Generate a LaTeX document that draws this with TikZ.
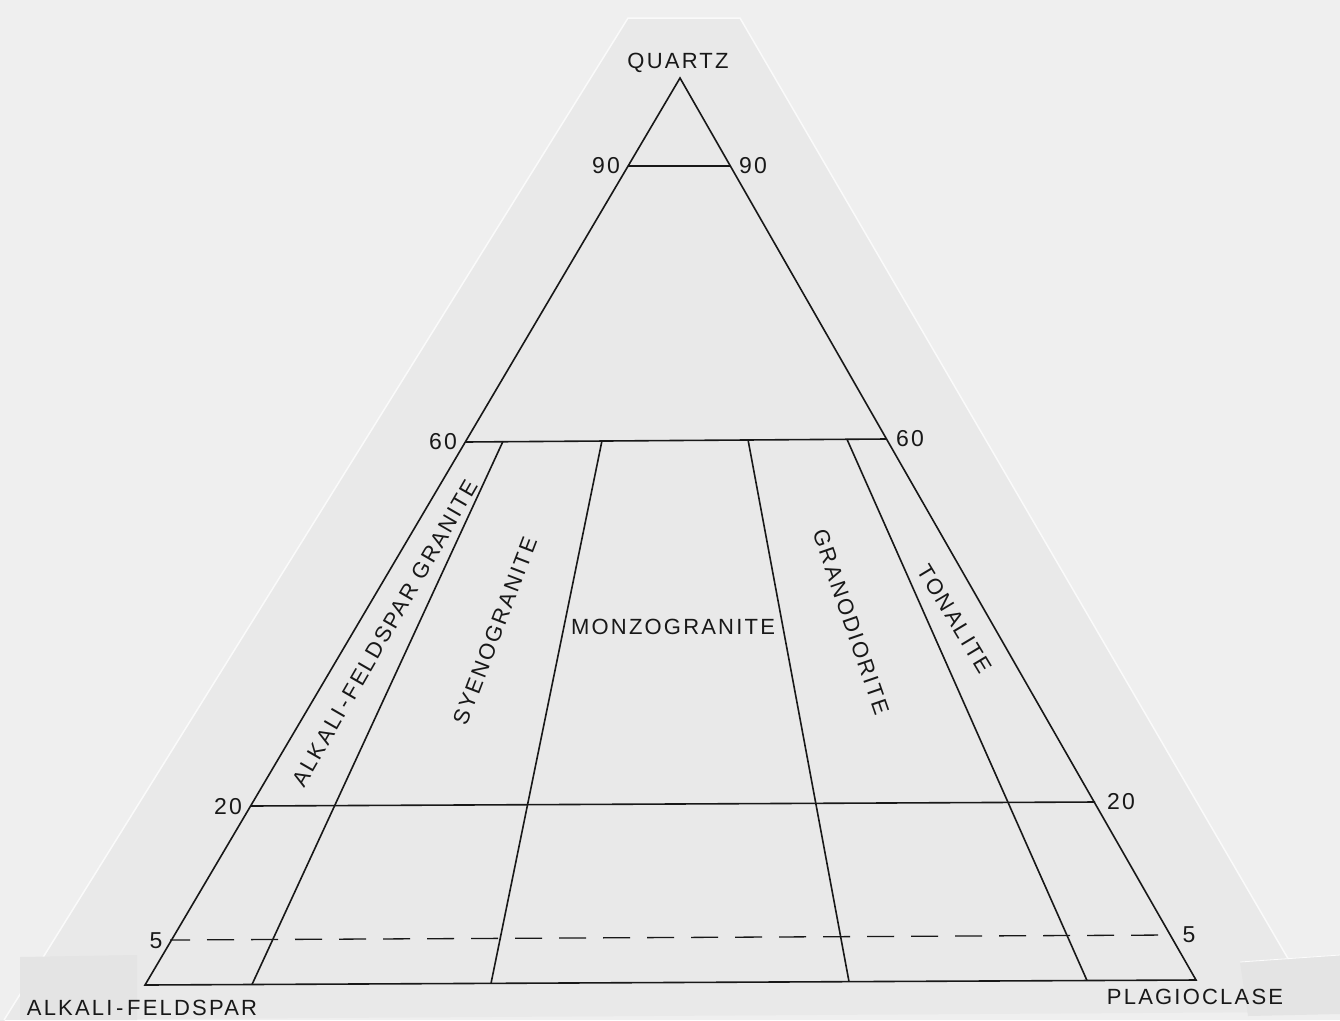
\documentclass[tikz,border=0pt]{standalone}
\usepackage{fontspec}
\setmainfont{Liberation Sans}[LetterSpace=10]
\definecolor{bgc}{HTML}{EFEFEF}
\definecolor{paperc}{HTML}{E9E9E9}
\definecolor{tapec}{HTML}{E4E4E4}
\definecolor{inkc}{HTML}{181818}
\tikzset{
  ink/.style={draw=inkc, line width=1.6pt, line join=miter},
  dashline/.style={draw=inkc, line width=1.3pt, dash pattern=on 27pt off 17pt, dash phase=7pt},
  lbl/.style={font=\fontsize{22}{24}\selectfont, inner sep=0pt, text=inkc},
  num/.style={font=\fontsize{23}{25}\selectfont, inner sep=0pt, text=inkc}
}
\begin{document}
\begin{tikzpicture}[x=1pt,y=-1pt]
\useasboundingbox (0,0) rectangle (1340,1020);
% background and paper
\fill[bgc] (0,0) rectangle (1340,1020);
\fill[paperc] (628,18) -- (740,18) -- (1290,962) -- (1302,1012) -- (0,1020) -- (0,1028) -- cycle;
\draw[white!70!bgc, line width=1.5pt] (4,1020) -- (628,18) -- (740,18) -- (1290,962);
% tape pieces
\fill[tapec] (20,957) -- (137,955) -- (137,1020) -- (20,1020) -- cycle;
\fill[tapec] (1240,962) -- (1340,955) -- (1340,1014) -- (1248,1016) -- cycle;
\draw[white!80!bgc, line width=0.8pt] (1240,962) -- (1340,955);
% corner coordinates
\coordinate (Q) at (680,78);
\coordinate (A) at (145,985);
\coordinate (P) at (1196,980);
\coordinate (l90) at (628,166);
\coordinate (r90) at (731,166);
\coordinate (l60) at (465,442);
\coordinate (r60) at (886,439);
\coordinate (l20) at (250,806);
\coordinate (r20) at (1095,802);
\coordinate (l5) at (170,940);
\coordinate (r5) at (1171,935);
\coordinate (d1t) at (503,441.3);
\coordinate (d2t) at (602,440.6);
\coordinate (d3t) at (748,439.6);
\coordinate (d4t) at (847,439.3);
\coordinate (d1b) at (252,984.5);
\coordinate (d2b) at (491,983.4);
\coordinate (d3b) at (849,981.6);
\coordinate (d4b) at (1087,980.5);
% outer triangle
\draw[ink] (Q) -- (A) -- (P) -- cycle;
% horizontal lines
\draw[ink] (l90) -- (r90);
\draw[ink] (l60) -- (r60);
\draw[ink] (l20) -- (r20);
\draw[dashline] (l5) -- (r5);
% dividers
\draw[ink] (d1t) -- (d1b);
\draw[ink] (d2t) -- (d2b);
\draw[ink] (d3t) -- (d3b);
\draw[ink] (d4t) -- (d4b);
% corner labels
\node[lbl] (lq) at (678,63) {QUARTZ};
\node[lbl] (la) at (142,1008) {ALKALI{\,}-{\,}FELDSPAR};
\node[lbl] (lp) at (1195,997) {PLAGIOCLASE};
% numbers
\node[num] (n90a) at (606,166) {90};
\node[num] (n90b) at (753,166) {90};
\node[num] (n60a) at (443,442) {60};
\node[num] (n60b) at (910,439) {60};
\node[num] (n20a) at (228,807) {20};
\node[num] (n20b) at (1121,802) {20};
\node[num] (n5a) at (156,941) {5};
\node[num] (n5b) at (1189,935) {5};
% field labels
\node[lbl, rotate=60] (afg) at (385,633) {ALKALI{\,}-{\,}FELDSPAR GRANITE};
\node[lbl, rotate=69] (syg) at (495,631) {SYENOGRANITE};
\node[lbl] (mzg) at (673,627) {MONZOGRANITE};
\node[lbl, rotate=-71] (grd) at (851,622) {GRANODIORITE};
\node[lbl, rotate=-59] (ton) at (955,619) {TONALITE};
\end{tikzpicture}
\end{document}
